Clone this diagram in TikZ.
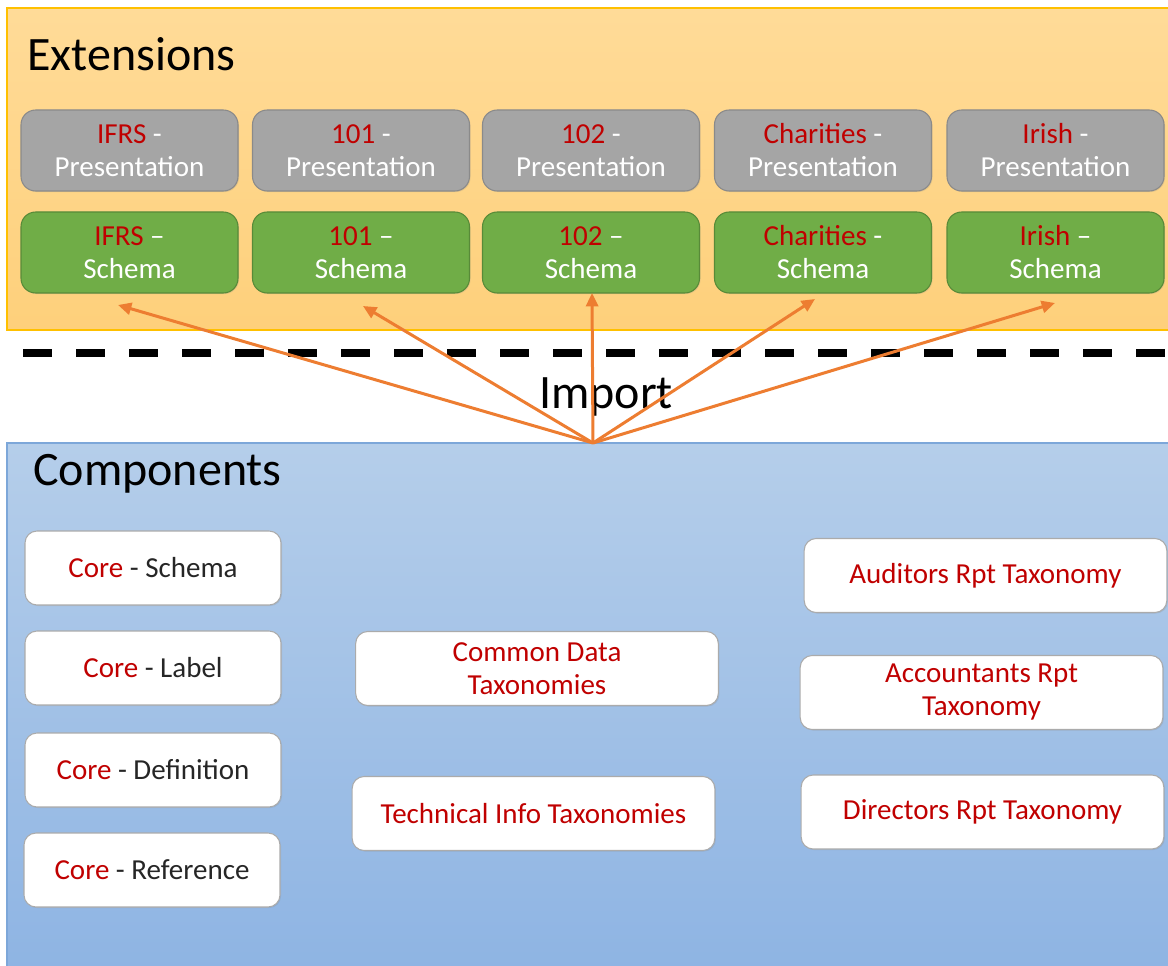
\documentclass[tikz,border=0pt]{standalone}
\usepackage{fontspec}
\setmainfont{Carlito}
\usetikzlibrary{arrows.meta,shadows}

\definecolor{exttop}{HTML}{FFDB98}
\definecolor{extbot}{HTML}{FED07B}
\definecolor{extedge}{HTML}{FFC000}
\definecolor{comptop}{HTML}{B5CEEA}
\definecolor{compbot}{HTML}{8EB4E3}
\definecolor{compedge}{HTML}{7DA7D9}
\definecolor{presgray}{HTML}{A5A5A5}
\definecolor{presedge}{HTML}{8A8A8A}
\definecolor{schgreen}{HTML}{70AD47}
\definecolor{schedge}{HTML}{588A38}
\definecolor{boxedge}{HTML}{ABABAB}
\definecolor{txtred}{HTML}{C00000}
\definecolor{txtdark}{HTML}{262626}
\definecolor{imporange}{HTML}{ED7D31}

\begin{document}
\begin{tikzpicture}[x=0.75pt,y=-0.75pt,
  extbox/.style={rounded corners=11pt, minimum width=162.75pt, minimum height=60.75pt,
    inner sep=0pt, align=center, text=white, line width=0.8pt,
    font=\fontsize{21.75}{24.75}\selectfont,
    drop shadow={opacity=0.2, shadow xshift=0.8pt, shadow yshift=-0.8pt}},
  presbox/.style={extbox, fill=presgray, draw=presedge},
  schbox/.style={extbox, fill=schgreen, draw=schedge},
  compbox/.style={rounded corners=9pt, fill=white, draw=boxedge, line width=0.8pt,
    minimum width=272pt, minimum height=55.5pt, inner sep=0pt, align=center, text=txtred,
    font=\fontsize{21.75}{24.75}\selectfont,
    drop shadow={opacity=0.2, shadow xshift=0.8pt, shadow yshift=-0.8pt}},
  corebox/.style={compbox, minimum width=192pt},
  title/.style={inner sep=0pt, text=black, font=\fontsize{36}{43}\selectfont},
  imparrow/.style={draw=imporange, line width=2.25pt, -{Triangle[length=10pt,width=9pt]}}
]
\useasboundingbox (0,0) rectangle (1168,966);

\path[draw=extedge, line width=1.2pt, top color=exttop, bottom color=extbot] (7,8) rectangle (1174,330);
\path[draw=compedge, line width=1.2pt, top color=comptop, bottom color=compbot] (7,443) rectangle (1174,972);

\node[title, anchor=base west] (ext) at (27,71) {Extensions};
\node[title, anchor=base west] (comp) at (33,485) {Components};
\node[title, anchor=base] (import) at (606,408) {Import};

\draw[line width=6pt, dash pattern=on 21.75pt off 18pt] (23,353) -- (1174,353);

\node[presbox] (p1) at (129.5,150.5) {\textcolor{txtred}{IFRS} -\\Presentation};
\node[presbox] (p2) at (361,150.5) {\textcolor{txtred}{101} -\\Presentation};
\node[presbox] (p3) at (591,150.5) {\textcolor{txtred}{102} -\\Presentation};
\node[presbox] (p4) at (823,150.5) {\textcolor{txtred}{Charities} -\\Presentation};
\node[presbox] (p5) at (1055.5,150.5) {\textcolor{txtred}{Irish} -\\Presentation};

\node[schbox] (s1) at (129.5,252.5) {\textcolor{txtred}{IFRS} --\\Schema};
\node[schbox] (s2) at (361,252.5) {\textcolor{txtred}{101} --\\Schema};
\node[schbox] (s3) at (591,252.5) {\textcolor{txtred}{102} --\\Schema};
\node[schbox] (s4) at (823,252.5) {\textcolor{txtred}{Charities} -\\Schema};
\node[schbox] (s5) at (1055.5,252.5) {\textcolor{txtred}{Irish} --\\Schema};

\node[corebox] (core1) at (153,568) {Core \textcolor{txtdark}{- Schema}};
\node[corebox] (core2) at (153,668) {Core \textcolor{txtdark}{- Label}};
\node[corebox] (core3) at (153,770) {Core \textcolor{txtdark}{- Definition}};
\node[corebox] (core4) at (152,870) {Core \textcolor{txtdark}{- Reference}};

\node[compbox] (common) at (537,668.5) {Common Data\\Taxonomies};
\node[compbox] (tech) at (533.5,813.5) {Technical Info Taxonomies};

\node[compbox] (audit) at (985.5,575.5) {Auditors Rpt Taxonomy};
\node[compbox] (acct) at (981.5,692.5) {Accountants Rpt\\Taxonomy};
\node[compbox] (dir) at (982.5,812) {Directors Rpt Taxonomy};

\coordinate (src) at (593,443);
\coordinate (t1) at (118,305);
\coordinate (t2) at (363,306);
\coordinate (t3) at (592,293);
\coordinate (t4) at (815,299);
\coordinate (t5) at (1055,303);
\foreach \t in {t1,t2,t3,t4,t5}
  \draw[imparrow] (src) -- (\t);
\end{tikzpicture}
\end{document}
